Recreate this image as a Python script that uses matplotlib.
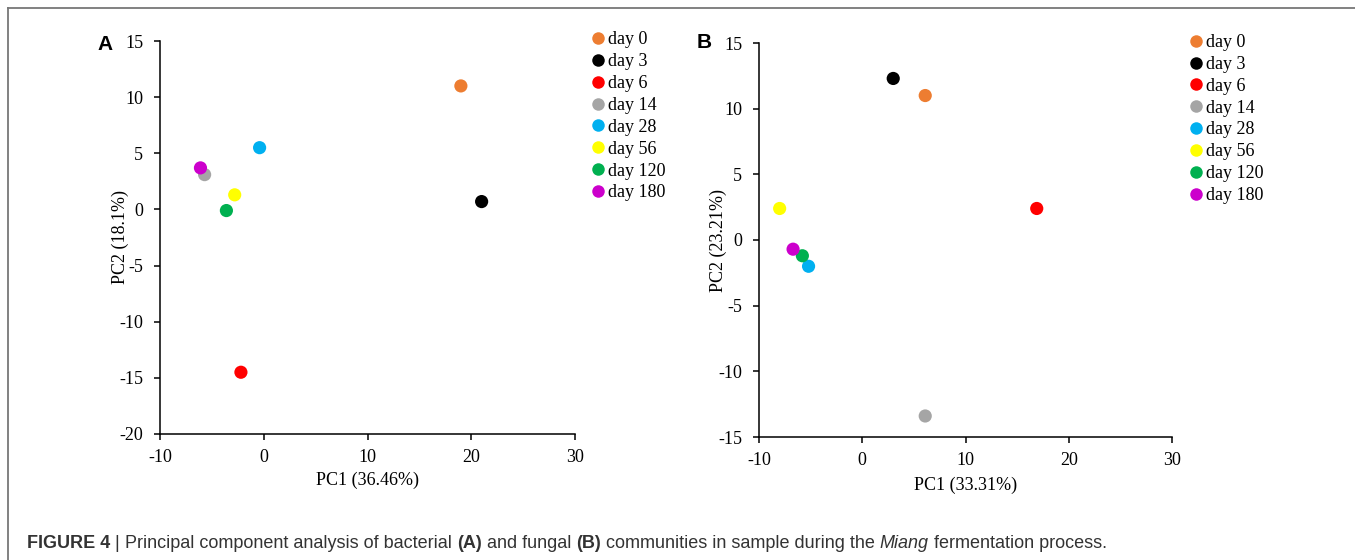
import matplotlib
matplotlib.use("Agg")
import matplotlib.pyplot as plt
from matplotlib.lines import Line2D

plt.rcParams["axes.unicode_minus"] = False

days = ["day 0", "day 3", "day 6", "day 14", "day 28", "day 56", "day 120", "day 180"]
colors = ["#ED7D31", "#000000", "#FF0000", "#A5A5A5", "#00B0F0", "#FFFF00", "#00B050", "#CC00CC"]

a_pc1 = [19.0, 21.0, -2.2, -5.7, -0.4, -2.8, -3.6, -6.1]
a_pc2 = [11.0, 0.7, -14.5, 3.1, 5.5, 1.3, -0.1, 3.7]
b_pc1 = [6.1, 3.0, 16.9, 6.1, -5.2, -8.0, -5.8, -6.7]
b_pc2 = [11.0, 12.3, 2.4, -13.4, -2.0, 2.4, -1.2, -0.7]

W, H = 1355, 560
fig = plt.figure(figsize=(W / 100, H / 100), dpi=100)
serif = "Liberation Serif"
FS = 13

def ax_rect(x0, x1, y0, y1):
    return [x0 / W, 1 - y1 / H, (x1 - x0) / W, (y1 - y0) / H]

def setup(ax, xlab, ylab, ylim, yticks, x0, x1, y0, y1, ylab_x, xlab_y):
    ax.set_xlim(-10, 30)
    ax.set_ylim(*ylim)
    ax.set_xticks([-10, 0, 10, 20, 30])
    ax.set_yticks(yticks)
    for s in ["top", "right"]:
        ax.spines[s].set_visible(False)
    for s in ["left", "bottom"]:
        ax.spines[s].set_color("#000000")
        ax.spines[s].set_linewidth(1.1)
    ax.tick_params(axis="both", direction="out", length=4, width=1.1, labelsize=FS)
    ax.tick_params(axis="x", pad=7)
    ax.tick_params(axis="y", pad=8)
    for lab in ax.get_xticklabels() + ax.get_yticklabels():
        lab.set_fontfamily(serif)
    ax.set_xlabel(xlab, fontfamily=serif, fontsize=FS)
    ax.set_ylabel(ylab, fontfamily=serif, fontsize=FS)
    ax.yaxis.label.set_va("center")
    ax.xaxis.label.set_va("center")
    ax.yaxis.set_label_coords((ylab_x - x0) / (x1 - x0), 0.5)
    ax.xaxis.set_label_coords(0.5, (y1 - xlab_y) / (y1 - y0))
    ax.patch.set_alpha(0)

axA = fig.add_axes(ax_rect(160, 575, 41, 434))
for x, y, c in zip(a_pc1, a_pc2, colors):
    axA.scatter([x], [y], s=90, color=c, edgecolors="none", zorder=3, clip_on=False)
setup(axA, "PC1 (36.46%)", "PC2 (18.1%)", (-20, 15), [-20, -15, -10, -5, 0, 5, 10, 15],
      160, 575, 41, 434, 120, 480)

axB = fig.add_axes(ax_rect(759, 1172, 43, 437))
for x, y, c in zip(b_pc1, b_pc2, colors):
    axB.scatter([x], [y], s=90, color=c, edgecolors="none", zorder=3, clip_on=False)
setup(axB, "PC1 (33.31%)", "PC2 (23.21%)", (-15, 15), [-15, -10, -5, 0, 5, 10, 15],
      759, 1172, 43, 437, 718, 485)

handles = [Line2D([], [], linestyle="none", marker="o", markersize=9,
                  markerfacecolor=c, markeredgecolor="none") for c in colors]

def add_leg(x_marker, y_first):
    fig.legend(handles, days, loc="upper left",
               bbox_to_anchor=((x_marker - 7.2) / W, 1 - (y_first - 7) / H),
               frameon=False, borderpad=0, borderaxespad=0, handlelength=0.8,
               handletextpad=0.16, labelspacing=0.27,
               prop={"family": serif, "size": FS})

add_leg(597.7, 38.3)
add_leg(1196, 41)

fig.text(105 / W, 1 - 44 / H, "A", fontsize=15, fontweight="bold", fontfamily="Liberation Sans", va="center", ha="center")
fig.text(704 / W, 1 - 42 / H, "B", fontsize=15, fontweight="bold", fontfamily="Liberation Sans", va="center", ha="center")

# Frame lines
fig.add_artist(Line2D([8 / W, 1], [1 - 8 / H, 1 - 8 / H], color="#777777", lw=1.3))
fig.add_artist(Line2D([8 / W, 8 / W], [0, 1 - 8 / H], color="#777777", lw=1.3))

# Caption
cap_font = ["Liberation Sans"]
pieces = [
    ("FIGURE 4 ", "bold", "normal"),
    ("| ", "normal", "normal"),
    ("Principal component analysis of bacterial ", "normal", "normal"),
    ("(A)", "bold", "normal"),
    (" and fungal ", "normal", "normal"),
    ("(B)", "bold", "normal"),
    (" communities in sample during the ", "normal", "normal"),
    ("Miang", "normal", "italic"),
    (" fermentation process.", "normal", "normal"),
]
fig.canvas.draw()
renderer = fig.canvas.get_renderer()
x = 27
y = 1 - 543 / H
for txt, wt, st in pieces:
    t = fig.text(x / W, y, txt, fontsize=13, fontweight=wt, fontstyle=st,
                 family=cap_font, color="#333333", va="center", ha="left")
    bb = t.get_window_extent(renderer=renderer)
    x += bb.width

fig.savefig("out.png", dpi=100)
